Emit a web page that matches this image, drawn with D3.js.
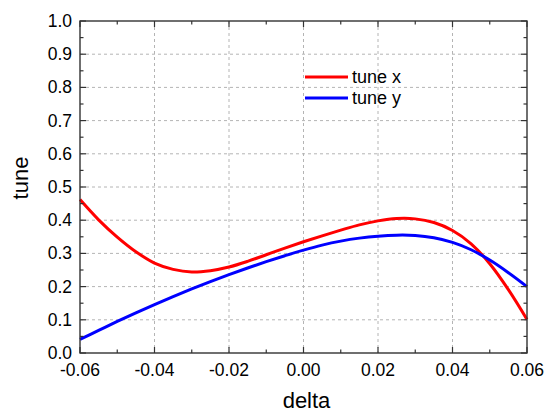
<!DOCTYPE html>
<html lang="en">
<head>
<meta charset="utf-8">
<script src="https://d3js.org/d3.v7.min.js"></script>
<style>
body { margin: 0; background: #fff; }
text { font-family: "Liberation Sans", Arial, sans-serif; fill: #000; }
.grid line { stroke: #b4b4b4; stroke-width: 1; stroke-dasharray: 3,3; }
.frame { fill: none; stroke: #333; stroke-width: 1.4; }
.tick-mark { stroke: #333; stroke-width: 1.2; }
</style>
</head>
<body>
<svg width="545" height="412"></svg>
<script>

// momentum offset (delta)
var delta = [-0.060, -0.055, -0.050, -0.045, -0.040, -0.035, -0.030, -0.025, -0.020,
             -0.015, -0.010, -0.005, 0.000, 0.005, 0.010, 0.015, 0.020, 0.025,
             0.030, 0.035, 0.040, 0.045, 0.050, 0.055, 0.060];

// tune x (red)
var tuneX = [0.462, 0.401, 0.349, 0.305, 0.271, 0.252, 0.244, 0.248, 0.259,
             0.276, 0.296, 0.316, 0.335, 0.353, 0.370, 0.386, 0.398, 0.405,
             0.404, 0.393, 0.369, 0.329, 0.269, 0.191, 0.101];

// tune y (blue)
var tuneY = [0.041, 0.068, 0.095, 0.121, 0.146, 0.170, 0.193, 0.215, 0.236,
             0.256, 0.275, 0.293, 0.310, 0.325, 0.337, 0.346, 0.352, 0.355,
             0.354, 0.347, 0.333, 0.311, 0.280, 0.242, 0.200];

var xTicks = [-0.06, -0.04, -0.02, 0.00, 0.02, 0.04, 0.06];
var yTicks = [0.0, 0.1, 0.2, 0.3, 0.4, 0.5, 0.6, 0.7, 0.8, 0.9, 1.0];
var xMinor = [-0.05, -0.03, -0.01, 0.01, 0.03, 0.05];
var yMinor = [0.05, 0.15, 0.25, 0.35, 0.45, 0.55, 0.65, 0.75, 0.85, 0.95];

var series = [
  { name: "tune x", values: tuneX, color: "#ff0000" },
  { name: "tune y", values: tuneY, color: "#0000ff" }
];

// plot box (note: "top" is reserved on window, so use px* names)
var svg = d3.select("svg"),
    pxL = 80, pxR = 527, pxT = 21, pxB = 353;

var x = d3.scaleLinear().domain([-0.06, 0.06]).range([pxL, pxR]);
var y = d3.scaleLinear().domain([0, 1]).range([pxB, pxT]);

// plain hyphen instead of unicode minus
function fmt(p) {
  var f = d3.format("." + p + "f");
  return function(d) { return f(d).replace("\u2212", "-"); };
}

// grid
var grid = svg.append("g").attr("class", "grid");
grid.selectAll(".gx").data(xTicks.slice(1, -1)).enter().append("line")
    .attr("x1", function(d) { return x(d); }).attr("x2", function(d) { return x(d); })
    .attr("y1", pxT).attr("y2", pxB);
grid.selectAll(".gy").data(yTicks.slice(1, -1)).enter().append("line")
    .attr("x1", pxL).attr("x2", pxR)
    .attr("y1", function(d) { return y(d); }).attr("y2", function(d) { return y(d); });

// curves
var line = d3.line()
    .x(function(d, i) { return x(delta[i]); })
    .y(function(d) { return y(d); })
    .curve(d3.curveCatmullRom);

svg.append("g").selectAll("path").data(series).enter().append("path")
    .attr("d", function(d) { return line(d.values); })
    .attr("fill", "none")
    .attr("stroke", function(d) { return d.color; })
    .attr("stroke-width", 3);

// inward ticks on all four sides
var ticks = svg.append("g");
function tickSet(vals, len, isX) {
  vals.forEach(function(v) {
    if (isX) {
      ticks.append("line").attr("class", "tick-mark")
        .attr("x1", x(v)).attr("x2", x(v)).attr("y1", pxB).attr("y2", pxB - len);
      ticks.append("line").attr("class", "tick-mark")
        .attr("x1", x(v)).attr("x2", x(v)).attr("y1", pxT).attr("y2", pxT + len);
    } else {
      ticks.append("line").attr("class", "tick-mark")
        .attr("x1", pxL).attr("x2", pxL + len).attr("y1", y(v)).attr("y2", y(v));
      ticks.append("line").attr("class", "tick-mark")
        .attr("x1", pxR).attr("x2", pxR - len).attr("y1", y(v)).attr("y2", y(v));
    }
  });
}
tickSet(xTicks, 6, true);
tickSet(xMinor, 3.5, true);
tickSet(yTicks, 6, false);
tickSet(yMinor, 3.5, false);

svg.append("rect").attr("class", "frame")
    .attr("x", pxL).attr("y", pxT)
    .attr("width", pxR - pxL).attr("height", pxB - pxT);

// tick labels
svg.append("g").selectAll("text").data(xTicks).enter().append("text")
    .attr("x", function(d) { return x(d); })
    .attr("y", 376)
    .attr("text-anchor", "middle")
    .style("font-size", "17.5px")
    .text(fmt(2));

svg.append("g").selectAll("text").data(yTicks).enter().append("text")
    .attr("x", 72)
    .attr("y", function(d) { return y(d) + 6; })
    .attr("text-anchor", "end")
    .style("font-size", "17.5px")
    .text(fmt(1));

// axis titles
svg.append("text")
    .attr("x", (pxL + pxR) / 2 + 3)
    .attr("y", 408)
    .attr("text-anchor", "middle")
    .style("font-size", "22px")
    .text("delta");

svg.append("text")
    .attr("transform", "translate(28,178) rotate(-90)")
    .attr("text-anchor", "middle")
    .style("font-size", "22px")
    .text("tune");

// legend
var legend = svg.append("g").selectAll("g").data(series).enter().append("g")
    .attr("transform", function(d, i) { return "translate(305," + (77 + i * 21) + ")"; });
legend.append("line")
    .attr("x1", 0).attr("x2", 43)
    .attr("stroke", function(d) { return d.color; })
    .attr("stroke-width", 3);
legend.append("text")
    .attr("x", 47).attr("y", 6)
    .style("font-size", "18px")
    .text(function(d) { return d.name; });

</script>
</body>
</html>
